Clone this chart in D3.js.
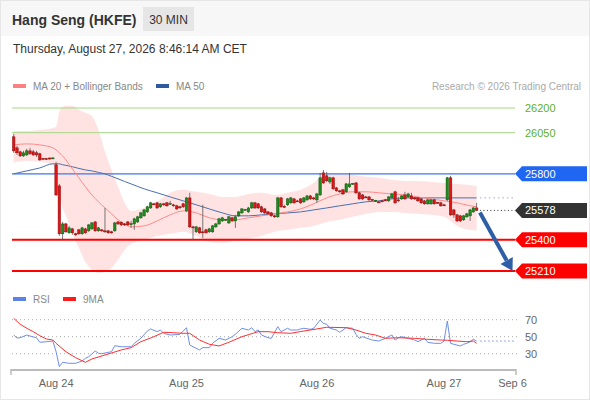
<!DOCTYPE html>
<html>
<head>
<meta charset="utf-8">
<script src="https://cdn.jsdelivr.net/npm/d3@7"></script>
<style>
  body { margin: 0; background: #fff; }
  svg { display: block; font-family: "Liberation Sans", Arial, sans-serif; }
</style>
</head>
<body>
<div id="chart"></div>
<script>
// 30 min candles, bar index 0 = first bar on the chart
var opens = [26025,25958,25934,25909,25915,25940,25934,25928,25922,25894,
  25893,25896,25895,25855,25727,25436,25496,25442,25466,25436,
  25460,25436,25466,25454,25466,25508,25454,25460,25454,25454,
  25448,25454,25508,25505,25496,25508,25494,25496,25508,25533,
  25545,25569,25593,25618,25624,25600,25618,25624,25618,25612,
  25606,25600,25618,25575,25654,25478,25448,25472,25448,25460,
  25448,25448,25478,25496,25514,25521,25502,25533,25514,25545,
  25563,25581,25569,25593,25624,25618,25600,25587,25569,25563,
  25545,25539,25654,25603,25612,25624,25648,25636,25648,25630,
  25642,25666,25654,25642,25672,25806,25788,25751,25776,25715,
  25697,25703,25691,25721,25739,25745,25685,25672,25660,25660,
  25645,25636,25630,25636,25642,25636,25654,25691,25642,25648,
  25672,25660,25666,25654,25654,25648,25636,25618,25618,25642,
  25627,25624,25612,25642,25776,25581,25551,25545,25521,25539,
  25545,25569,25593];
var highs = [26043,25970,25940,25940,25952,25958,25946,25940,25928,25897,
  25897,25900,25900,25873,25739,25508,25502,25484,25472,25442,
  25466,25478,25472,25496,25508,25514,25478,25466,25593,25460,
  25454,25508,25514,25511,25502,25514,25514,25533,25545,25569,
  25587,25606,25630,25624,25630,25624,25624,25630,25636,25618,
  25612,25606,25624,25660,25685,25484,25484,25478,25612,25466,
  25472,25490,25502,25533,25539,25527,25545,25539,25551,25575,
  25593,25587,25600,25630,25630,25624,25606,25593,25575,25569,
  25551,25660,25660,25612,25654,25660,25654,25642,25654,25660,
  25672,25672,25660,25685,25806,25824,25812,25782,25782,25721,
  25703,25709,25745,25806,25745,25751,25691,25678,25666,25666,
  25648,25642,25636,25642,25648,25666,25685,25697,25660,25672,
  25691,25685,25685,25660,25660,25654,25642,25648,25648,25648,
  25630,25630,25618,25782,25788,25587,25557,25551,25551,25563,
  25587,25600,25624];
var lows = [25928,25915,25903,25903,25909,25915,25909,25903,25879,25885,
  25886,25888,25890,25666,25423,25399,25442,25436,25430,25423,
  25430,25430,25436,25448,25460,25448,25448,25448,25442,25436,
  25436,25448,25490,25484,25484,25484,25472,25460,25502,25527,
  25539,25563,25587,25612,25587,25593,25606,25600,25612,25600,
  25581,25587,25593,25569,25472,25399,25442,25436,25411,25436,
  25442,25442,25472,25490,25508,25514,25496,25508,25472,25539,
  25557,25575,25563,25587,25587,25587,25563,25557,25551,25539,
  25533,25533,25593,25593,25606,25618,25618,25630,25618,25624,
  25636,25642,25642,25624,25666,25739,25751,25739,25703,25691,
  25685,25672,25685,25715,25733,25678,25642,25642,25654,25636,
  25636,25630,25624,25630,25636,25630,25648,25618,25630,25642,
  25642,25654,25642,25642,25630,25618,25612,25612,25612,25612,
  25618,25600,25606,25636,25545,25533,25508,25508,25514,25533,
  25514,25563,25575];
var closes = [25940,25928,25909,25928,25940,25922,25915,25915,25885,25891,
  25890,25893,25897,25672,25436,25496,25448,25472,25442,25433,
  25436,25472,25442,25490,25502,25454,25472,25457,25451,25442,
  25445,25502,25496,25490,25493,25490,25497,25527,25539,25563,
  25581,25600,25624,25615,25593,25618,25615,25606,25621,25609,
  25587,25597,25600,25654,25478,25472,25478,25442,25445,25442,
  25466,25484,25496,25527,25533,25524,25539,25514,25539,25569,
  25587,25584,25593,25624,25593,25593,25569,25563,25557,25545,
  25542,25654,25600,25600,25648,25654,25624,25633,25624,25654,
  25666,25648,25651,25678,25776,25745,25758,25776,25709,25697,
  25694,25678,25739,25739,25742,25685,25648,25648,25657,25642,
  25642,25639,25627,25633,25639,25660,25678,25624,25639,25666,
  25648,25678,25648,25651,25636,25624,25618,25642,25642,25618,
  25624,25606,25609,25776,25551,25551,25514,25514,25545,25557,
  25581,25593,25578];

// Indicator samples (bar index -> price)
var maIdx = [0,4,8,12,13,14,15,16,18,20,22,24,26,28,30,32,34,36,40,44,
  48,52,56,60,64,68,72,76,80,84,88,92,96,100,104,108,112,116,120,124,
  128,132,136,140,142];
var ma20 = [25976,25982,25976,25958,25946,25928,25909,25885,25830,25776,
  25721,25672,25630,25593,25557,25521,25496,25478,25484,25514,
  25551,25575,25563,25533,25521,25521,25533,25545,25557,25569,
  25587,25618,25654,25678,25691,25691,25685,25678,25672,25660,
  25648,25636,25624,25606,25600];
var bbUpper = [26061,26061,26067,26079,26086,26177,26207,26213,26213,26189,
  26171,26152,26067,25934,25824,25721,25624,25575,25593,25630,
  25685,25703,25691,25678,25660,25660,25678,25685,25672,25685,
  25703,25745,25800,25800,25794,25782,25776,25764,25757,25757,
  25751,25745,25739,25733,25727];
var bbLower = [25867,25879,25873,25855,25812,25672,25593,25545,25436,25350,
  25265,25217,25199,25205,25229,25278,25338,25375,25399,25423,
  25436,25448,25423,25387,25381,25393,25405,25423,25448,25460,
  25472,25484,25508,25521,25539,25557,25569,25569,25563,25557,
  25551,25539,25484,25460,25454];
var ma50 = [25800,25818,25836,25861,25861,25861,25855,25852,25843,25833,
  25824,25818,25809,25800,25785,25770,25754,25739,25709,25685,
  25660,25636,25612,25587,25563,25545,25545,25551,25557,25563,
  25569,25581,25593,25606,25618,25630,25636,25648,25654,25654,
  25654,25654,25654,25654,25654];

// RSI and its 9 period average (bar index -> value)
var rsiIdx = [0,1,2,4,5,7,8,10,12,13,14,15,17,19,21,22,23,25,26,27,
  30,31,33,36,37,39,41,42,44,45,46,48,51,53,54,55,57,58,60,61,
  63,65,67,68,70,72,73,74,75,76,78,79,81,82,84,85,87,88,89,91,
  92,94,95,96,97,99,100,102,104,105,106,107,109,110,112,114,116,117,118,119,
  121,123,124,126,127,129,131,132,133,134,135,137,138,139,140,141,142];
var rsiVals = [52.0,48.5,48.8,52.0,50.8,48.8,43.4,44.1,44.9,32.4,
  14.7,19.9,18.7,18.7,21.4,24.6,26.5,33.2,30.5,30.0,
  32.4,39.4,38.2,38.2,42.2,48.1,56.7,59.1,55.9,57.9,
  54.0,52.0,52.8,60.6,40.2,38.2,34.4,37.1,37.1,42.2,
  48.1,46.1,50.0,52.8,59.9,57.9,60.6,55.9,57.9,52.0,
  48.8,48.1,61.8,55.9,59.9,57.9,57.9,59.1,59.9,58.7,
  59.9,69.6,65.8,64.6,59.9,57.9,55.2,60.6,59.9,52.8,
  48.1,50.0,47.3,46.1,44.9,48.1,52.0,46.1,48.8,50.0,
  48.1,46.1,44.1,48.1,43.4,42.2,42.2,44.9,68.5,42.2,
  41.1,39.1,41.1,42.2,44.1,46.9,44.9];
var rsiMaIdx = [0,2,4,6,8,10,12,13,16,19,22,24,28,33,36,39,43,46,49,52,
  54,57,60,63,66,70,75,78,81,85,89,93,96,102,105,108,111,114,118,123,
  127,131,133,136,139,141,142];
var rsiMaVals = [71.6,64.6,59.9,55.9,51.2,47.3,46.1,42.2,32.4,25.3,
  19.9,23.8,28.5,34.4,37.1,44.1,50.0,55.2,54.7,54.0,
  54.0,46.1,41.1,39.1,43.4,50.0,55.9,55.9,54.7,54.0,
  56.7,59.1,61.1,60.6,57.9,54.0,52.0,48.1,48.8,48.1,
  46.9,46.1,45.8,44.9,44.1,44.9,42.2];
var rsiLevels = [70, 50, 30];

// Key levels
var targetLevels = [26200, 26050];
var pivotLevel = 25800;
var supportLevels = [25400, 25210];
var lastPrice = 25578;
var arrowFrom = [143, 25565];
var arrowTo = [153, 25210];

// Date ticks (bar index) and labels
var tickIdx = [13, 53, 93, 132, 153];
var tickLabels = ["Aug 24", "Aug 25", "Aug 26", "Aug 27", "Sep 6"];

// SVG container
var width = 590;
var height = 400;
var plotLeft = 12;
var plotRight = 515;
var tagRight = 587;

var svg = d3.select("#chart")
    .append("svg")
    .attr("width", width)
    .attr("height", height);

svg.append("rect")
    .attr("x", 0).attr("y", 0)
    .attr("width", width).attr("height", height)
    .attr("fill", "#fff");

svg.append("rect")
    .attr("x", 0).attr("y", 0)
    .attr("width", width).attr("height", 36)
    .attr("fill", "#f7f7f7");

svg.append("rect")
    .attr("x", 0.5).attr("y", 0.5)
    .attr("width", width - 1).attr("height", height - 1)
    .attr("fill", "none")
    .attr("stroke", "#e6e6e6");

// Scales
var xScale = d3.scaleLinear().domain([0, 153]).range([13.7, 512.5]);
var yScale = d3.scaleLinear().domain([25210, 26200]).range([271, 108]);
var rsiScale = d3.scaleLinear().domain([30, 70]).range([353.7, 319.7]);

// Header
svg.append("text")
    .attr("x", 12).attr("y", 25)
    .attr("font-size", 14)
    .attr("font-weight", "bold")
    .attr("fill", "#333")
    .text("Hang Seng (HKFE)");

svg.append("rect")
    .attr("x", 143).attr("y", 7)
    .attr("width", 51).attr("height", 24)
    .attr("fill", "#e6e6e6");

svg.append("text")
    .attr("x", 168.5).attr("y", 24)
    .attr("text-anchor", "middle")
    .attr("font-size", 12)
    .attr("fill", "#333")
    .text("30 MIN");

svg.append("text")
    .attr("x", 13).attr("y", 53)
    .attr("font-size", 12)
    .attr("fill", "#333")
    .text("Thursday, August 27, 2026 8:46:14 AM CET");

// Legend
function legendItem(x, y, color, label) {
  svg.append("rect")
      .attr("x", x).attr("y", y - 6)
      .attr("width", 13).attr("height", 4)
      .attr("fill", color);
  svg.append("text")
      .attr("x", x + 20).attr("y", y)
      .attr("font-size", 10)
      .attr("fill", "#888")
      .text(label);
}
legendItem(13, 90, "#ff8080", "MA 20 + Bollinger Bands");
legendItem(156, 90, "#2e5b9f", "MA 50");
legendItem(13, 303, "#5d82e6", "RSI");
legendItem(63, 303, "#ff1a1a", "9MA");

svg.append("text")
    .attr("x", 581).attr("y", 90)
    .attr("text-anchor", "end")
    .attr("font-size", 10)
    .attr("fill", "#aaa")
    .text("Research \u00a9 2026 Trading Central");

// Bollinger band
var band = d3.area()
    .x(function(d) { return xScale(d); })
    .y0(function(d, i) { return yScale(bbLower[i]); })
    .y1(function(d, i) { return yScale(bbUpper[i]); })
    .curve(d3.curveMonotoneX);

svg.append("path")
    .datum(maIdx)
    .attr("d", band)
    .attr("fill", "#ffe3e3");

// Level lines
targetLevels.forEach(function(v) {
  svg.append("line")
      .attr("x1", plotLeft).attr("x2", plotRight)
      .attr("y1", yScale(v)).attr("y2", yScale(v))
      .attr("stroke", "#a3d883")
      .attr("stroke-width", 1);
  svg.append("text")
      .attr("x", 525).attr("y", yScale(v) + 4)
      .attr("font-size", 11)
      .attr("fill", "#5bb02c")
      .text(v);
});

svg.append("line")
    .attr("x1", plotLeft).attr("x2", plotRight)
    .attr("y1", yScale(pivotLevel)).attr("y2", yScale(pivotLevel))
    .attr("stroke", "#3a78ee")
    .attr("stroke-width", 1.3);

supportLevels.forEach(function(v) {
  svg.append("line")
      .attr("x1", plotLeft).attr("x2", plotRight)
      .attr("y1", yScale(v)).attr("y2", yScale(v))
      .attr("stroke", "#ff0000")
      .attr("stroke-width", 2);
});

// Moving averages
function maPath(vals) {
  return d3.line()
      .x(function(d, i) { return xScale(maIdx[i]); })
      .y(function(d) { return yScale(d); })
      .curve(d3.curveMonotoneX)(vals);
}

svg.append("path")
    .attr("d", maPath(ma50))
    .attr("fill", "none")
    .attr("stroke", "#4a6fb0")
    .attr("stroke-width", 1);

svg.append("path")
    .attr("d", maPath(ma20))
    .attr("fill", "none")
    .attr("stroke", "#ff8a8a")
    .attr("stroke-width", 1);

// Candles
var bars = svg.selectAll("g.bar")
    .data(d3.range(closes.length))
    .enter()
    .append("g")
    .attr("class", "bar");

bars.append("line")
    .attr("x1", function(i) { return xScale(i); })
    .attr("x2", function(i) { return xScale(i); })
    .attr("y1", function(i) { return yScale(highs[i]); })
    .attr("y2", function(i) { return yScale(lows[i]); })
    .attr("stroke", "#555")
    .attr("stroke-width", 0.8);

bars.append("rect")
    .attr("x", function(i) { return xScale(i) - 1.25; })
    .attr("width", 2.5)
    .attr("y", function(i) { return yScale(Math.max(opens[i], closes[i])); })
    .attr("height", function(i) {
      return Math.max(1, Math.abs(yScale(opens[i]) - yScale(closes[i])));
    })
    .attr("fill", function(i) { return closes[i] >= opens[i] ? "#1f8a1f" : "#e01414"; })
    .attr("stroke", function(i) { return closes[i] >= opens[i] ? "#0d5a0d" : "#8c0a0a"; })
    .attr("stroke-width", 0.5);

// Dotted extensions after the last bar
var lastX = xScale(closes.length);

svg.append("line")
    .attr("x1", lastX).attr("x2", plotRight)
    .attr("y1", yScale(ma50[ma50.length - 1])).attr("y2", yScale(ma50[ma50.length - 1]))
    .attr("stroke", "#93a9d3")
    .attr("stroke-dasharray", "1.5,3");

svg.append("line")
    .attr("x1", lastX).attr("x2", plotRight)
    .attr("y1", yScale(lastPrice)).attr("y2", yScale(lastPrice))
    .attr("stroke", "#333")
    .attr("stroke-dasharray", "1,2.5");

// Price tags
function tag(v, color) {
  var y = yScale(v);
  svg.append("path")
      .attr("d", "M" + plotRight + "," + y +
                 "L" + (plotRight + 7) + "," + (y - 7.5) +
                 "H" + tagRight + "V" + (y + 7.5) +
                 "H" + (plotRight + 7) + "Z")
      .attr("fill", color);
  svg.append("text")
      .attr("x", 525).attr("y", y + 4)
      .attr("font-size", 11)
      .attr("fill", "#fff")
      .text(v);
}
tag(pivotLevel, "#1f66f2");
tag(lastPrice, "#333");
supportLevels.forEach(function(v) { tag(v, "#ff0000"); });

// Forecast arrow
var ax1 = xScale(arrowFrom[0]), ay1 = yScale(arrowFrom[1]);
var ax2 = xScale(arrowTo[0]), ay2 = yScale(arrowTo[1]);
var len = Math.sqrt((ax2 - ax1) * (ax2 - ax1) + (ay2 - ay1) * (ay2 - ay1));
var ux = (ax2 - ax1) / len, uy = (ay2 - ay1) / len;
var bx = ax2 - ux * 12, by = ay2 - uy * 12;

svg.append("line")
    .attr("x1", ax1).attr("y1", ay1)
    .attr("x2", bx).attr("y2", by)
    .attr("stroke", "#2d5ea6")
    .attr("stroke-width", 4);

svg.append("path")
    .attr("d", "M" + ax2 + "," + ay2 +
               "L" + (bx - uy * 7) + "," + (by + ux * 7) +
               "L" + (bx + uy * 7) + "," + (by - ux * 7) + "Z")
    .attr("fill", "#2d5ea6");

// RSI panel
rsiLevels.forEach(function(v) {
  svg.append("line")
      .attr("x1", plotLeft).attr("x2", plotRight + 2)
      .attr("y1", rsiScale(v)).attr("y2", rsiScale(v))
      .attr("stroke", "#aaa")
      .attr("stroke-dasharray", "1,3");
  svg.append("text")
      .attr("x", 525).attr("y", rsiScale(v) + 4)
      .attr("font-size", 11)
      .attr("fill", "#666")
      .text(v);
});

svg.append("line")
    .attr("x1", lastX).attr("x2", plotRight)
    .attr("y1", rsiScale(rsiVals[rsiVals.length - 1]))
    .attr("y2", rsiScale(rsiVals[rsiVals.length - 1]))
    .attr("stroke", "#8fa6e8")
    .attr("stroke-dasharray", "2,2");

var rsiLine = d3.line()
    .x(function(d) { return xScale(d[0]); })
    .y(function(d) { return rsiScale(d[1]); });

svg.append("path")
    .attr("d", rsiLine(d3.zip(rsiIdx, rsiVals)))
    .attr("fill", "none")
    .attr("stroke", "#6f8fe8")
    .attr("stroke-width", 1);

svg.append("path")
    .attr("d", rsiLine(d3.zip(rsiMaIdx, rsiMaVals)))
    .attr("fill", "none")
    .attr("stroke", "#ff3030")
    .attr("stroke-width", 1);

// Time axis
svg.append("line")
    .attr("x1", 11).attr("x2", 516)
    .attr("y1", 370).attr("y2", 370)
    .attr("stroke", "#bbb")
    .attr("stroke-width", 2);

[11, 516].forEach(function(x) {
  svg.append("line")
      .attr("x1", x).attr("x2", x)
      .attr("y1", 369).attr("y2", 375)
      .attr("stroke", "#bbb")
      .attr("stroke-width", 1.5);
});

svg.selectAll("text.tick")
    .data(tickIdx)
    .enter()
    .append("text")
    .attr("class", "tick")
    .attr("x", function(d) { return xScale(d); })
    .attr("y", 387)
    .attr("text-anchor", "middle")
    .attr("font-size", 11)
    .attr("fill", "#666")
    .text(function(d, i) { return tickLabels[i]; });
</script>
</body>
</html>
